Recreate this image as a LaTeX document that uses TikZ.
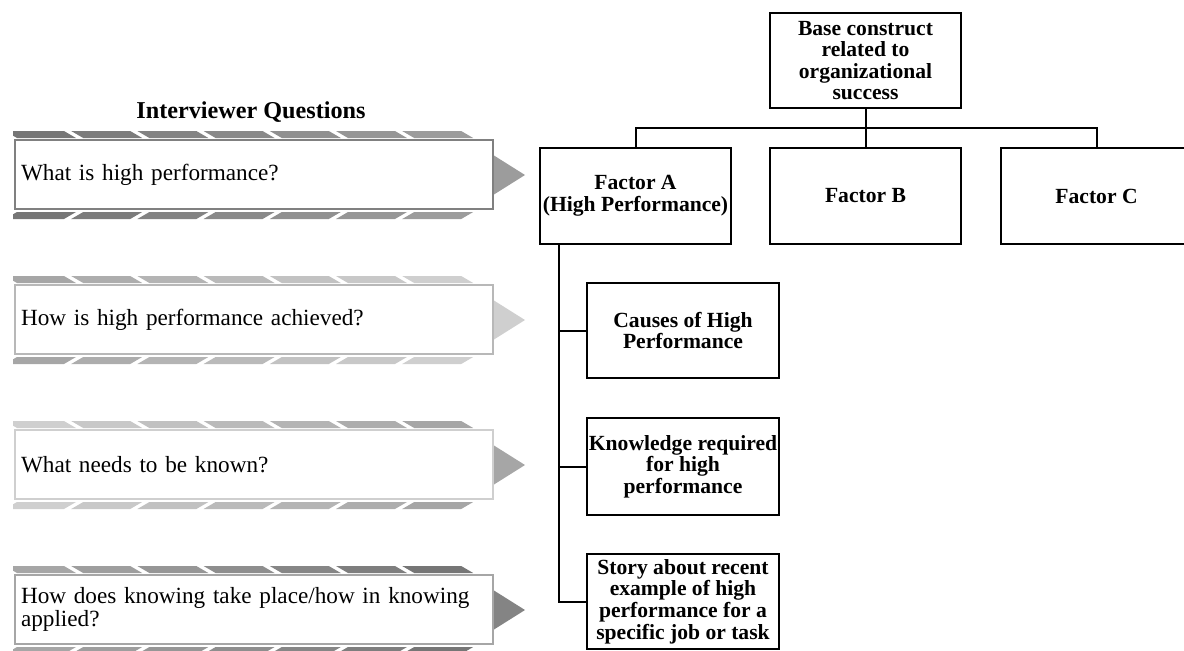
\documentclass[tikz,border=0pt]{standalone}
\usepackage{fontspec}
\setmainfont{Liberation Serif}
\usepackage{tikz}

\definecolor{qdark}{HTML}{767676}
\definecolor{qmid}{HTML}{A6A6A6}
\definecolor{qlight}{HTML}{CFCFCF}
\definecolor{qtop}{HTML}{9C9C9C}

\begin{document}
\begin{tikzpicture}[x=0.5pt,y=-0.5pt,
                      treebox/.style={draw=black,line width=1.3pt,fill=white,inner sep=0pt,align=center,
                        minimum width=95.5pt,minimum height=47.5pt,font=\fontsize{10.8}{10.8}\selectfont\bfseries},
                      qbox/.style={draw=#1,line width=1.3pt,fill=white,text width=233pt,inner xsep=3pt,
                        inner ysep=0pt,minimum height=34.5pt,align=left,font=\fontsize{11.6}{11.2}\selectfont},
                      link/.style={draw=black,line width=1pt}]
                      \useasboundingbox (0,0) rectangle (1184,650);
                      \node[font=\fontsize{12.1}{14}\selectfont\bfseries] (title) at (251,112) {Interviewer Questions};
                      \foreach \k/\ca/\cb/\cline/\ctri/\txt in {
                          0/qdark/qtop/gray/qtop/{What is high performance?},
                          1/qmid/qlight/qmid!80!white/qlight/{How is high performance achieved?},
                          2/qlight/qmid/qlight/qmid/{What needs to be known?},
                          3/qmid/qdark/qmid/qdark!90!white/{How does knowing take place/how in knowing\\applied?}}{
                        \pgfmathsetmacro{\T}{140+145*\k}
                        \begin{scope}
                          \clip (13,\T-10) rectangle (475,\T+81);
                          \foreach \i in {0,...,6}{
                            \pgfmathsetmacro{\x}{5+66.2*\i}
                            \pgfmathtruncatemacro{\pct}{100-\i*100/6}
                            \fill[\ca!\pct!\cb] (\x,\T-9) -- (\x+59,\T-9) -- (\x+71,\T-2) -- (\x+12,\T-2) -- cycle;
                            \fill[\ca!\pct!\cb] (\x+12,\T+72) -- (\x+71,\T+72) -- (\x+59,\T+79) -- (\x,\T+79) -- cycle;
                          }
                        \end{scope}
                        \fill[\ctri] (490,\T+13) -- (525,\T+35) -- (490,\T+57) -- cycle;
                        \node[qbox=\cline] (q\k) at (254,\T+34.5) {\txt};
                      }
                      \node[treebox] (base) at (865.5,60.5) {Base construct\\related to\\organizational\\success};
                      \node[treebox,minimum height=48pt] (facA) at (635.5,196) {Factor A\\(High Performance)};
                      \node[treebox,minimum height=48pt] (facB) at (865.5,196) {Factor B};
                      \node[treebox,minimum height=48pt] (facC) at (1096.5,196) {Factor C};
                      \coordinate (bus) at (865.5,128);
                      \draw[link] (base.south) -- (bus);
                      \draw[link] (facA.north) |- (bus) -| (facC.north);
                      \draw[link] (bus) -- (facB.north);
                      \coordinate (spine) at (558.5,244);
                      \node[treebox,minimum width=96pt] (causes) at (683,330.5) {Causes of High\\Performance};
                      \node[treebox,minimum width=96pt,minimum height=48.5pt] (know) at (683,466.5) {Knowledge required\\for high\\performance};
                      \node[treebox,minimum width=96pt] (story) at (683,601.5) {Story about recent\\example of high\\performance for a\\specific job or task};
                      \foreach \n in {causes,know,story}
                        \draw[link] (spine) |- (\n.west);
                  \end{tikzpicture}
\end{document}
